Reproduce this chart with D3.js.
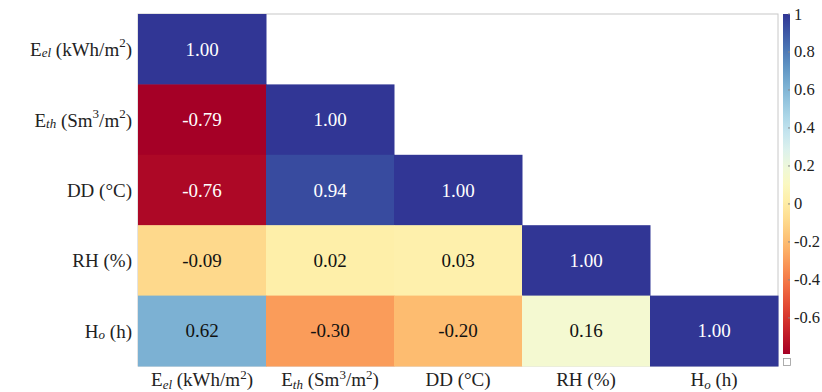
<!DOCTYPE html>
<html>
<head>
<meta charset="utf-8">
<script src="https://cdn.jsdelivr.net/npm/d3@7"></script>
<style>
  body { margin: 0; background: #fff; }
</style>
</head>
<body>
<div id="chart"></div>
<script>
// Variable names, split in parts so sub/superscripts can be drawn
const variables = ["Eel", "Eth", "DD", "RH", "Ho"];
const labelParts = {
    Eel: [{ t: "E" }, { t: "el", sub: true }, { t: " (kWh/m" }, { t: "2", sup: true }, { t: ")" }],
    Eth: [{ t: "E" }, { t: "th", sub: true }, { t: " (Sm" }, { t: "3", sup: true }, { t: "/m" }, { t: "2", sup: true }, { t: ")" }],
    DD: [{ t: "DD (°C)" }],
    RH: [{ t: "RH (%)" }],
    Ho: [{ t: "H" }, { t: "o", sub: true }, { t: " (h)" }]
};

// Lower-triangle correlation values, row by row
const corrRows = [
    [1.00],
    [-0.79, 1.00],
    [-0.76, 0.94, 1.00],
    [-0.09, 0.02, 0.03, 1.00],
    [0.62, -0.30, -0.20, 0.16, 1.00]
];

const colorDomain = [-0.79, 1];
const colorTicks = [-0.6, -0.4, -0.2, 0, 0.2, 0.4, 0.6, 0.8, 1];

const width = 822, height = 392;
const plot = { left: 138, right: 778, top: 14, bottom: 366 };
const serif = "'Liberation Serif', 'Times New Roman', serif";

const svg = d3.select("#chart").append("svg")
    .attr("width", width)
    .attr("height", height);

const x = d3.scaleBand().domain(variables).range([plot.left, plot.right]);
const y = d3.scaleBand().domain(variables).range([plot.top, plot.bottom]);
const color = d3.scaleSequential(d3.interpolateRdYlBu).domain(colorDomain);
const fmt = v => d3.format(".2f")(v).replace("\u2212", "-");

// flatten matrix into cells
const cells = [];
corrRows.forEach((row, i) => {
    row.forEach((v, j) => cells.push({ row: variables[i], col: variables[j], value: v }));
});

// plot frame
svg.append("rect")
    .attr("x", plot.left)
    .attr("y", plot.top)
    .attr("width", plot.right - plot.left)
    .attr("height", plot.bottom - plot.top)
    .attr("fill", "#fff")
    .attr("stroke", "#c8c8c8")
    .attr("stroke-width", 1);

svg.append("g").selectAll("rect")
    .data(cells)
    .join("rect")
    .attr("x", d => x(d.col))
    .attr("y", d => y(d.row))
    .attr("width", x.bandwidth() + 0.5)
    .attr("height", y.bandwidth() + 0.5)
    .attr("fill", d => color(d.value));

svg.append("g").selectAll("text")
    .data(cells)
    .join("text")
    .attr("x", d => x(d.col) + x.bandwidth() / 2)
    .attr("y", d => y(d.row) + y.bandwidth() / 2)
    .attr("text-anchor", "middle")
    .attr("dominant-baseline", "central")
    .style("font-family", serif)
    .style("font-size", "19px")
    .attr("fill", d => (d.value > 0.8 || d.value < -0.6) ? "#fff" : "#111")
    .text(d => fmt(d.value));

// helper for labels with sub/superscripts
function writeLabel(sel, parts) {
    parts.forEach(p => {
        const ts = sel.append("tspan").text(p.t);
        if (p.sub) {
            ts.style("font-style", "italic").style("font-size", "13px").attr("baseline-shift", "-3");
        } else if (p.sup) {
            ts.style("font-size", "13px").attr("baseline-shift", "7");
        }
    });
}

// y labels
variables.forEach(v => {
    const t = svg.append("text")
        .attr("x", plot.left - 6)
        .attr("y", y(v) + y.bandwidth() / 2)
        .attr("text-anchor", "end")
        .attr("dominant-baseline", "central")
        .style("font-family", serif)
        .style("font-size", "19px")
        .attr("fill", "#222");
    writeLabel(t, labelParts[v]);
});

// x labels
variables.forEach(v => {
    const t = svg.append("text")
        .attr("x", x(v) + x.bandwidth() / 2)
        .attr("y", plot.bottom + 20)
        .attr("text-anchor", "middle")
        .style("font-family", serif)
        .style("font-size", "19px")
        .attr("fill", "#222");
    writeLabel(t, labelParts[v]);
});

// colorbar
const cb = { x: 783, w: 7 };
const cbScale = d3.scaleLinear().domain(colorDomain).range([354, 14]);

const grad = svg.append("defs").append("linearGradient")
    .attr("id", "cbgrad")
    .attr("x1", "0").attr("y1", "1").attr("x2", "0").attr("y2", "0");
d3.range(0, 1.0001, 0.05).forEach(t => {
    grad.append("stop")
        .attr("offset", t)
        .attr("stop-color", color(colorDomain[0] + t * (colorDomain[1] - colorDomain[0])));
});

svg.append("rect")
    .attr("x", cb.x)
    .attr("y", cbScale(colorDomain[1]))
    .attr("width", cb.w)
    .attr("height", cbScale(colorDomain[0]) - cbScale(colorDomain[1]))
    .attr("fill", "url(#cbgrad)");

const cbAxis = svg.append("g");
colorTicks.forEach(tk => {
    cbAxis.append("line")
        .attr("x1", cb.x + cb.w - 2).attr("x2", cb.x + cb.w)
        .attr("y1", cbScale(tk)).attr("y2", cbScale(tk))
        .attr("stroke", "#888").attr("stroke-width", 1);
    cbAxis.append("text")
        .attr("x", cb.x + cb.w + 4)
        .attr("y", cbScale(tk))
        .attr("dominant-baseline", "central")
        .style("font-family", serif)
        .style("font-size", "16.5px")
        .attr("fill", "#222")
        .text(String(+tk.toFixed(1)));
});

// NaN swatch below colorbar
svg.append("rect")
    .attr("x", cb.x + 0.5)
    .attr("y", 358.5)
    .attr("width", cb.w)
    .attr("height", cb.w)
    .attr("fill", "#fff")
    .attr("stroke", "#999")
    .attr("stroke-width", 0.8);
</script>
</body>
</html>
